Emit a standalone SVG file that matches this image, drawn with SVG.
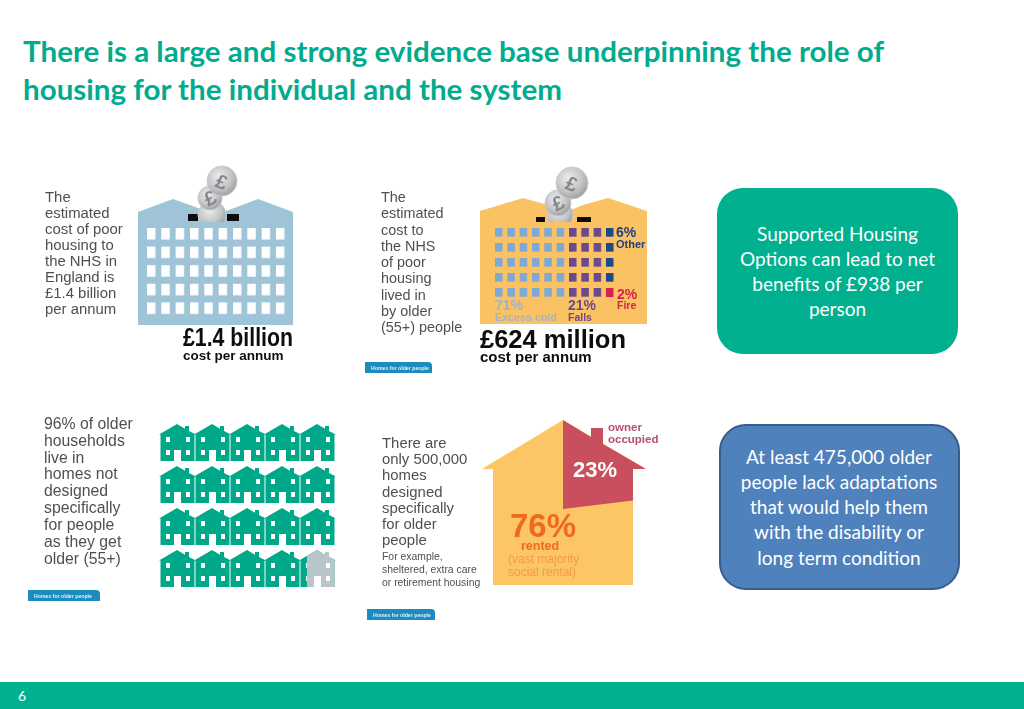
<svg xmlns="http://www.w3.org/2000/svg" width="1024" height="709" viewBox="0 0 1024 709">
<style>
text{font-family:"Liberation Sans",Arial,sans-serif}
.title{font-family:Lato,"Open Sans",sans-serif;font-weight:700;font-size:28px;fill:#00ab8e}
.body{font-size:14.9px;fill:#505050}
.small{font-size:10.4px;fill:#505050}
.big{font-weight:700;fill:#111}
.b{font-weight:700}
.box{font-family:Lato,"Open Sans",sans-serif;font-size:19px;fill:#fff;text-anchor:middle}
.tag{fill:#1e8bc0}
.tagt{font-size:5.2px;font-weight:700;fill:#dff1f8}
.coin{fill:url(#metal);stroke:#c8c9ca;stroke-width:1}
.pound{font-size:20px;font-weight:700;fill:#85878a;text-anchor:middle}
.win{fill:#fff}
.soft{filter:url(#soft)}
</style>
<defs>
<filter id="soft" x="-5%" y="-5%" width="110%" height="110%"><feGaussianBlur stdDeviation="0.35"/></filter>
<radialGradient id="metal" cx="0.4" cy="0.35" r="0.75"><stop offset="0" stop-color="#eceded"/><stop offset="0.6" stop-color="#bfc1c3"/><stop offset="1" stop-color="#8f9193"/></radialGradient>
<g id="house">
<path d="M0 10.500 18 0 26 4.700V2H30V7L37 10.500H35.500V37H22V26H15V37H1.500V10.500Z" fill="#00a88a"/>
<path class="win" d="M7 13h4v5H7zM27 13h4v5h-4zM7 26h4v5H7zM27 26h4v5h-4z"/>
</g>
<clipPath id="slotA"><rect x="180" y="160" width="70" height="62"/></clipPath>
<clipPath id="slotB"><rect x="530" y="160" width="70" height="62"/></clipPath>
<pattern id="winA" x="147" y="228" width="14.33" height="18.6" patternUnits="userSpaceOnUse"><rect width="8.400" height="11.500" fill="#fff"/></pattern>
<pattern id="cellBlue" x="495" y="228" width="12.33" height="15" patternUnits="userSpaceOnUse"><rect width="7.500" height="8.700" fill="#7fa8d4"/></pattern>
<pattern id="cellPurple" x="569" y="228" width="12.33" height="15" patternUnits="userSpaceOnUse"><rect width="7.500" height="8.700" fill="#6a4a8c"/></pattern>
<pattern id="cellNavy" x="606" y="228" width="12.33" height="15" patternUnits="userSpaceOnUse"><rect width="7.500" height="8.700" fill="#1f4a8a"/></pattern>
</defs>

<rect width="1024" height="709" fill="#fff"/>
<g id="heading">
<text class="title" x="23" y="62" textLength="861" lengthAdjust="spacingAndGlyphs">There is a large and strong evidence base underpinning the role of</text>
<text class="title" x="23" y="100" textLength="539" lengthAdjust="spacingAndGlyphs">housing for the individual and the system</text>
</g>

<g id="cost-nhs" class="soft">
<g class="body"><text x="45" y="202">The</text><text x="45" y="218">estimated</text><text x="45" y="234">cost of poor</text><text x="45" y="250">housing to</text><text x="45" y="266">the NHS in</text><text x="45" y="282">England is</text><text x="45" y="298">£1.4 billion</text><text x="45" y="314">per annum</text></g>
<path d="M138 212 173 199 198 208 218 214 237 207 258 199 293 212V325H138Z" fill="#9fc4d8"/>
<rect x="147" y="228" width="138" height="90" fill="url(#winA)"/>
<rect x="188" y="214" width="10" height="7" fill="#111"/><rect x="227" y="214" width="12" height="7" fill="#111"/>
<g clip-path="url(#slotA)">
<circle class="coin" cx="212" cy="215" r="14"/><circle class="coin" cx="210" cy="198" r="12"/><circle class="coin" cx="222" cy="181" r="15"/>
<text class="pound" x="210" y="205" transform="rotate(-25 210 198)">£</text><text class="pound" x="222" y="189" font-size="23" transform="rotate(20 222 181)">£</text>
</g>
<text class="big" x="183" y="346" font-size="26" textLength="110" lengthAdjust="spacingAndGlyphs">£1.4 billion</text>
<text class="big" x="183" y="360" font-size="13.500">cost per annum</text>
</g>

<g id="cost-older" class="soft">
<g class="body" style="font-size:14.4px"><text x="381" y="202">The</text><text x="381" y="218">estimated</text><text x="381" y="234.500">cost to</text><text x="381" y="250.500">the NHS</text><text x="381" y="267">of poor</text><text x="381" y="283">housing</text><text x="381" y="299.500">lived in</text><text x="381" y="315.500">by older</text><text x="381" y="332">(55+) people</text></g>
<path d="M480 211 523 198 548 205 566 212 583 205 608 198 647 211V324H480Z" fill="#fac263"/>
<rect x="495" y="228" width="74" height="70" fill="url(#cellBlue)"/>
<rect x="569" y="228" width="37" height="70" fill="url(#cellPurple)"/>
<rect x="606" y="228" width="8" height="55" fill="url(#cellNavy)"/>
<rect x="606" y="288" width="7.500" height="9" fill="#d6224f"/>
<rect x="536" y="217" width="9" height="5" fill="#111"/><rect x="577" y="217" width="14" height="5" fill="#111"/>
<g clip-path="url(#slotB)">
<circle class="coin" cx="560" cy="215" r="13"/><circle class="coin" cx="558" cy="203" r="13"/><circle class="coin" cx="572" cy="183" r="16"/>
<text class="pound" x="558" y="210" transform="rotate(-25 558 203)">£</text><text class="pound" x="572" y="191" font-size="24" transform="rotate(20 572 183)">£</text>
</g>
<text class="b" x="616" y="237" font-size="14" fill="#24407a">6%</text>
<text class="b" x="616" y="248" font-size="11" fill="#24407a">Other</text>
<text class="b" x="617" y="299" font-size="14" fill="#d6224f">2%</text>
<text class="b" x="617" y="309" font-size="10.500" fill="#d6224f">Fire</text>
<text class="b" x="495" y="310" font-size="14" fill="#9fb3cc">71%</text>
<text class="b" x="495" y="320.500" font-size="10.500" fill="#9fb3cc" textLength="62">Excess cold</text>
<text class="b" x="568" y="310" font-size="14" fill="#6a4a8c">21%</text>
<text class="b" x="568" y="320.500" font-size="10.500" fill="#6a4a8c">Falls</text>
<text class="big" x="480" y="348" font-size="25" textLength="146" lengthAdjust="spacingAndGlyphs">£624 million</text>
<text class="big" x="480" y="362" font-size="15">cost per annum</text>
<path class="tag" d="M365 362H428Q432 362 432 366V373H365Z"/><text class="tagt" x="371" y="369.500">Homes for older people</text>
</g>

<g id="older-households" class="soft">
<g class="body" style="font-size:15.8px"><text x="44" y="429">96% of older</text><text x="44" y="445.500">households</text><text x="44" y="462.500">live in</text><text x="44" y="479">homes not</text><text x="44" y="496">designed</text><text x="44" y="513">specifically</text><text x="44" y="530">for people</text><text x="44" y="546.500">as they get</text><text x="44" y="563.500">older (55+)</text></g>
<use href="#house" x="159" y="424"/><use href="#house" x="194" y="424"/><use href="#house" x="229" y="424"/><use href="#house" x="264" y="424"/><use href="#house" x="299" y="424"/>
<use href="#house" x="159" y="466"/><use href="#house" x="194" y="466"/><use href="#house" x="229" y="466"/><use href="#house" x="264" y="466"/><use href="#house" x="299" y="466"/>
<use href="#house" x="159" y="508"/><use href="#house" x="194" y="508"/><use href="#house" x="229" y="508"/><use href="#house" x="264" y="508"/><use href="#house" x="299" y="508"/>
<use href="#house" x="159" y="550"/><use href="#house" x="194" y="550"/><use href="#house" x="229" y="550"/><use href="#house" x="264" y="550"/><use href="#house" x="299" y="550"/>
<path d="M307 555.500 317 550 325 554.700V552H329V557L336 560.500H334.500V587H321V576H314V587H307Z" fill="#b9c5ca"/>
<path class="win" d="M326 563h4v5h-4zM326 576h4v5h-4z"/>
<path class="tag" d="M28 590H96Q100 590 100 594V601H28Z"/><text class="tagt" x="34" y="597.500">Homes for older people</text>
</g>

<g id="designed-homes" class="soft">
<g class="body"><text x="382" y="448">There are</text><text x="382" y="464">only 500,000</text><text x="382" y="480">homes</text><text x="382" y="497">designed</text><text x="382" y="513">specifically</text><text x="382" y="529">for older</text><text x="382" y="545">people</text></g>
<g class="small"><text x="382" y="560">For example,</text><text x="382" y="573">sheltered, extra care</text><text x="382" y="585.500">or retirement housing</text></g>
<path d="M563 420 482 469H493V585H633V469H646L563 420Z" fill="#fcc565"/>
<path d="M563 420 591 437V428H603V444L646 469H633V500.500L563 509Z" fill="#c9505f"/>
<text class="b" x="573" y="477" font-size="22" fill="#fff">23%</text>
<text class="b" x="510" y="537" font-size="33" fill="#ee6a1f">76%</text>
<text class="b" x="521" y="550" font-size="12.500" fill="#ee6a1f">rented</text>
<text x="508" y="563" font-size="12" fill="#f49a4a">(vast majority</text>
<text x="508" y="576" font-size="12" fill="#f49a4a">social rental)</text>
<text class="b" x="608" y="431" font-size="11.500" fill="#b8506a">owner</text>
<text class="b" x="608" y="443" font-size="11.500" fill="#b8506a">occupied</text>
<path class="tag" d="M367 609H431Q435 609 435 613V620H367Z"/><text class="tagt" x="373" y="616.500">Homes for older people</text>
</g>

<g id="supported-housing">
<rect x="717" y="188" width="241" height="166" rx="26" fill="#00b08e"/>
<text class="box" x="837.500" y="241">Supported Housing</text>
<text class="box" x="837.500" y="266">Options can lead to net</text>
<text class="box" x="837.500" y="291">benefits of £938 per</text>
<text class="box" x="837.500" y="316">person</text>
</g>

<g id="adaptations">
<rect x="720" y="425" width="239" height="164" rx="26" fill="#4f81bd" stroke="#385d8a" stroke-width="2"/>
<text class="box" x="839" y="464">At least 475,000 older</text>
<text class="box" x="839" y="489">people lack adaptations</text>
<text class="box" x="839" y="514">that would help them</text>
<text class="box" x="839" y="539">with the disability or</text>
<text class="box" x="839" y="565">long term condition</text>
</g>

<g id="footer">
<rect x="0" y="682" width="1024" height="27" fill="#00b08e"/>
<text x="18" y="701" font-size="14" fill="#fff" style="font-family:Lato,sans-serif">6</text>
</g>
</svg>
